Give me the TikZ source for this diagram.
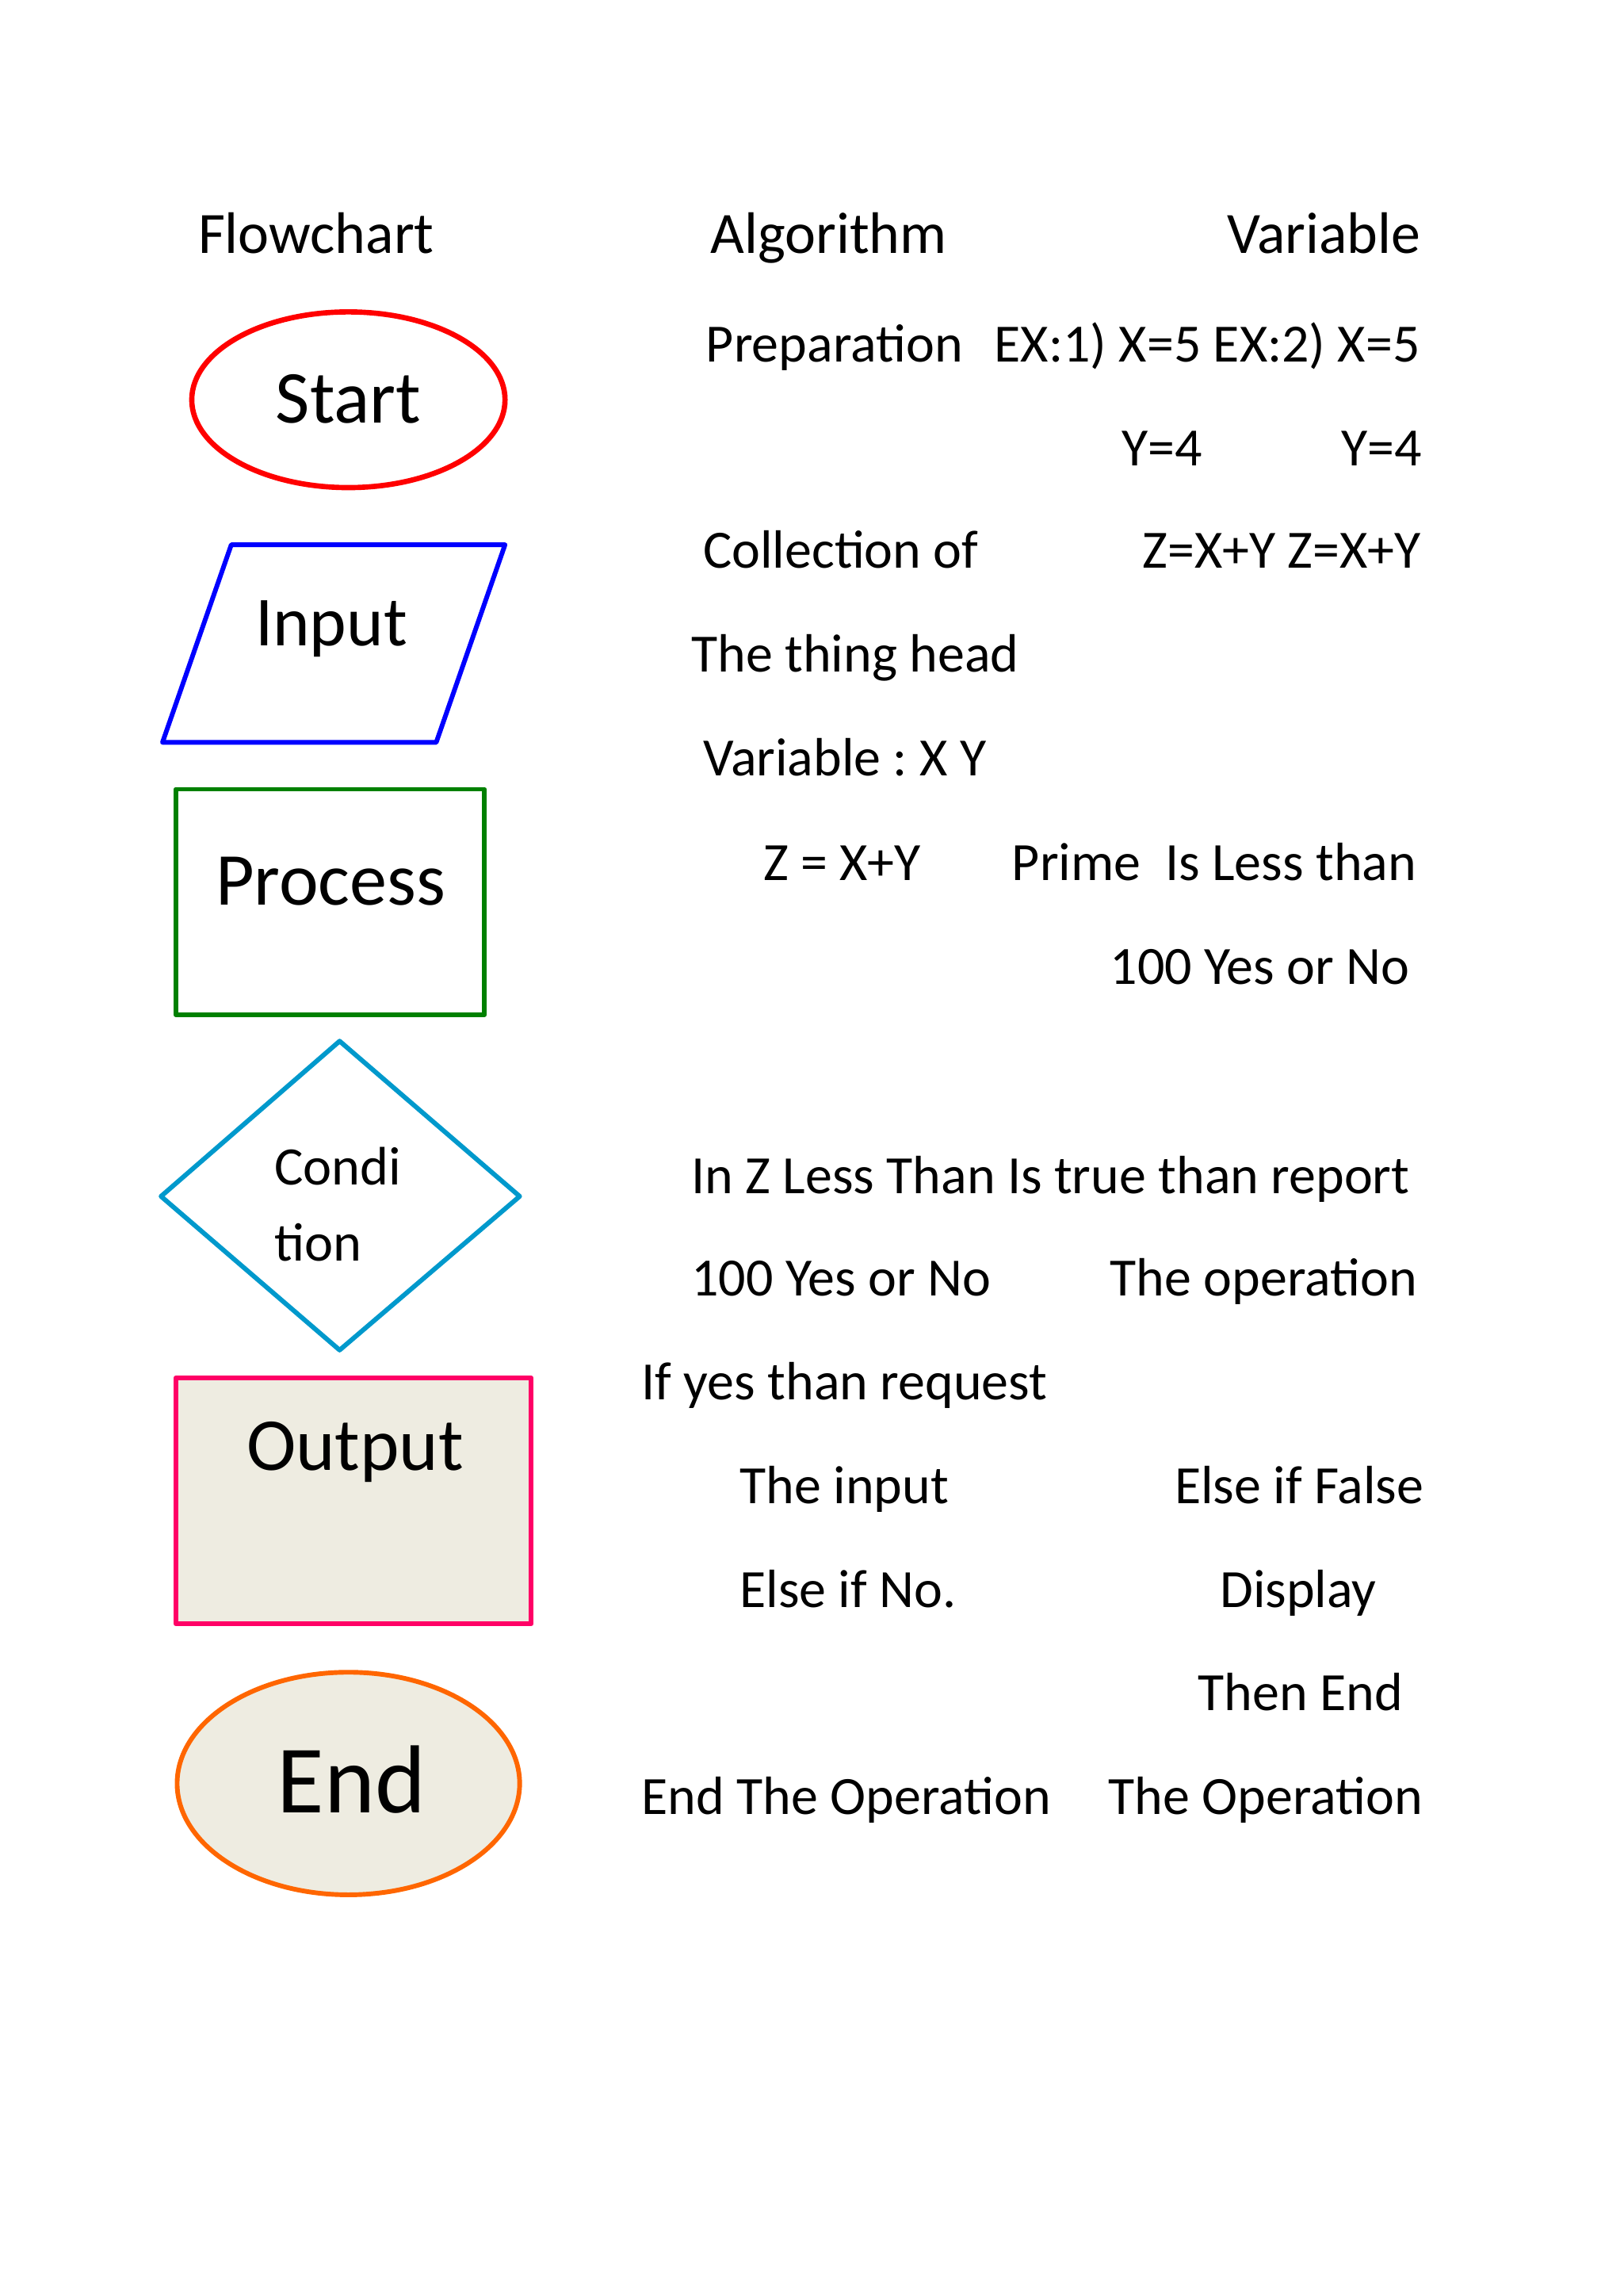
\documentclass[tikz,border=0pt]{standalone}
\usepackage{fontspec}
\setmainfont{Carlito}
\definecolor{startred}{RGB}{255,0,0}
\definecolor{inputblue}{RGB}{0,0,255}
\definecolor{procgreen}{RGB}{0,128,0}
\definecolor{condblue}{RGB}{0,153,204}
\definecolor{outpink}{RGB}{255,0,102}
\definecolor{endorange}{RGB}{255,102,0}
\definecolor{paper}{RGB}{238,236,225}
\begin{document}
\frenchspacing
\begin{tikzpicture}[x=0.5pt,y=-0.5pt,
		txt/.style={inner sep=0pt,anchor=west,text height=13pt,text depth=0pt,font=\fontsize{18.4}{22}\selectfont},
		head/.style={txt,font=\fontsize{20}{24}\selectfont},
		shapetxt/.style={txt,font=\fontsize{25.5}{30}\selectfont}]
		\useasboundingbox (0,0) rectangle (1109,1568);
		\node[head] (flowhead) at (135,160) {Flowchart};
		\node[head] (alghead) at (485,160) {Algorithm};
		\node[head] (varhead) at (838,160) {Variable};
		\draw[color=startred,line width=1.8pt] (238,273) ellipse (107 and 60);
		\node[shapetxt] (start) at (188,276) {Start};
		\draw[color=inputblue,line width=1.6pt,line join=round] (158,372) -- (345,372) -- (298,507) -- (111,507) -- cycle;
		\node[shapetxt,font=\fontsize{24}{28}\selectfont] (input) at (174,428) {Input};
		\draw[color=procgreen,line width=1.6pt,line join=round] (120,539) rectangle (331,693);
		\node[shapetxt] (process) at (147,605) {Process};
		\draw[color=condblue,line width=1.6pt,line join=round] (110,817) -- (232,711) -- (355,817) -- (232,922) -- cycle;
		\node[shapetxt,font=\fontsize{18.5}{22}\selectfont] (condi) at (187,796) {Condi};
		\node[shapetxt,font=\fontsize{18.5}{22}\selectfont] (tion) at (187,848) {tion};
		\draw[color=outpink,fill=paper,line width=1.6pt,line join=round] (120,941) rectangle (363,1109);
		\node[shapetxt] (output) at (168,991) {Output};
		\draw[color=endorange,fill=paper,line width=1.6pt] (238,1218) ellipse (117 and 76);
		\node[shapetxt,font=\fontsize{33}{38}\selectfont] (end) at (189,1225) {End};
		\node[txt] (prep) at (482,234) {Preparation};
		\node[txt] (ex) at (679,234) {EX:1) X=5 EX:2) X=5};
		\node[txt] (yone) at (766,305) {Y=4};
		\node[txt] (ytwo) at (916,305) {Y=4};
		\node[txt] (coll) at (480,375) {Collection of};
		\node[txt] (zsum) at (780,375) {Z=X+Y Z=X+Y};
		\node[txt] (thing) at (472,446) {The thing head};
		\node[txt] (vars) at (480,517) {Variable : X Y};
		\node[txt] (zeq) at (521,588) {Z = X+Y};
		\node[txt] (prime) at (691,588) {Prime\ \ Is Less than};
		\node[txt] (hundred) at (758,659) {100 Yes or No};
		\node[txt] (inz) at (472,802) {In Z Less Than Is true than report};
		\node[txt] (yesno) at (472,872) {100 Yes or No};
		\node[txt] (oper) at (758,872) {The operation};
		\node[txt] (ifyes) at (438,943) {If yes than request};
		\node[txt] (theinput) at (505,1014) {The input};
		\node[txt] (elsefalse) at (802,1014) {Else if False};
		\node[txt] (elseno) at (505,1085) {Else if No.};
		\node[txt] (display) at (833,1085) {Display};
		\node[txt] (thenend) at (818,1155) {Then End};
		\node[txt] (endop) at (438,1226) {End The Operation};
		\node[txt] (theop) at (757,1226) {The Operation};
		\end{tikzpicture}
\end{document}
